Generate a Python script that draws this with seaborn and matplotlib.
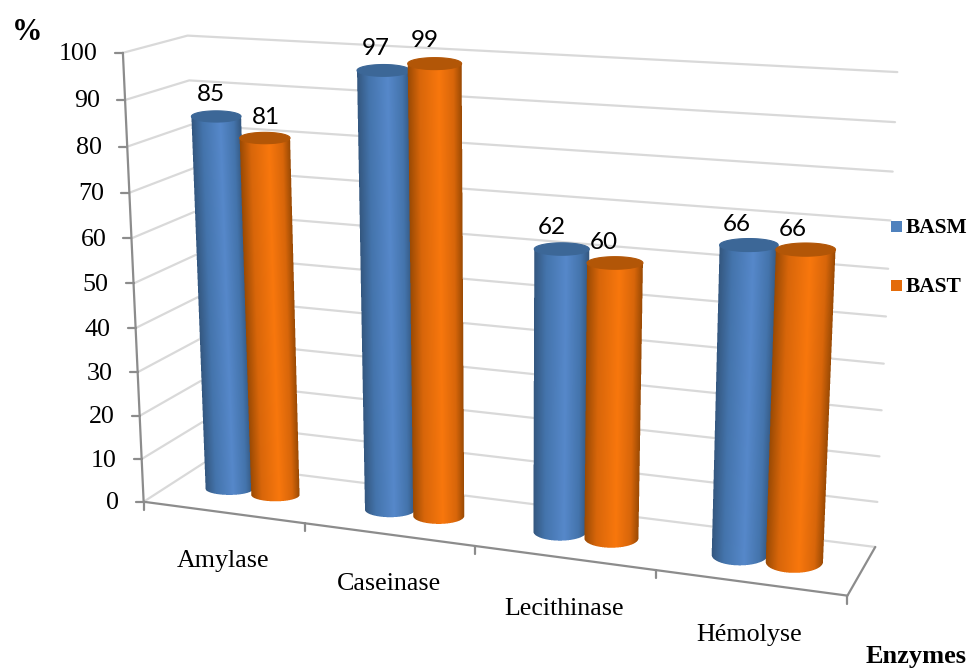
import numpy as np
import pandas as pd
import matplotlib
matplotlib.use("Agg")
import matplotlib.pyplot as plt
from matplotlib.colors import LinearSegmentedColormap
from matplotlib.patches import Polygon, Rectangle
import seaborn as sns

# Activity of each strain per enzyme, in percent
enzymes = ["Amylase", "Caseinase", "Lecithinase", "Hémolyse"]
basm = [85, 97, 62, 66]
bast = [81, 99, 60, 66]
y_ticks = [0, 10, 20, 30, 40, 50, 60, 70, 80, 90, 100]

series_names = ["BASM", "BAST"]
series_values = [basm, bast]

sns.set_theme(style="white")
SERIF = "Liberation Serif"
GRID = "#D9D9D9"
AXIS = "#8C8C8C"

fig = plt.figure(figsize=(9.71, 6.69), dpi=100)
ax = fig.add_axes([0, 0, 1, 1])

# Camera of the 3D box: (category position, value/100, depth) -> screen position
box_frame = [
    (0, 0, 0, 144, 502), (1, 0, 0, 304, 523), (2, 0, 0, 475, 547), (3, 0, 0, 656, 571),
    (4, 0, 0, 847, 595), (4, 0, 1, 875, 546), (0, 0, 1, 204, 463),
    (0, 1, 0, 123, 53), (0, .5, 0, 134, 282), (0, 1, 1, 187, 36),
    (4, 1, 1, 897, 72), (4, .5, 1, 887, 317),
]


def fit_camera(frame):
    rows = []
    for x, y, z, u, v in frame:
        u, v = u / 1000, v / 1000
        rows.append([x, y, z, 1, 0, 0, 0, 0, -u * x, -u * y, -u * z, -u])
        rows.append([0, 0, 0, 0, x, y, z, 1, -v * x, -v * y, -v * z, -v])
    return np.linalg.svd(np.array(rows))[2][-1].reshape(3, 4)


CAMERA = fit_camera(box_frame)


def project(x, value, z):
    x, value, z = np.broadcast_arrays(x, value, z)
    pts = np.stack([x, value / 100, z, np.ones_like(x, dtype=float)])
    h = CAMERA @ pts
    return h[0] / h[2] * 1000, h[1] / h[2] * 1000


# Wall gridlines, drawn as one polyline per value level
levels = []
for tick in y_ticks:
    corners = [project(0, tick, 0), project(0, tick, 1), project(4, tick, 1)]
    for order, (u, v) in enumerate(corners):
        levels.append({"level": tick, "order": order, "u": float(u), "v": float(v)})
grid_df = pd.DataFrame(levels)
sns.lineplot(data=grid_df, x="u", y="v", units="level", estimator=None, sort=False,
             color=GRID, lw=1.6, ax=ax, legend=False, zorder=1)

# Axis lines and ticks
for a, b in [(project(0, 0, 0), project(0, 100, 0)),
             (project(0, 0, 0), project(4, 0, 0)),
             (project(4, 0, 0), project(4, 0, 1))]:
    ax.plot([a[0], b[0]], [a[1], b[1]], color=AXIS, lw=1.6, zorder=2, solid_capstyle="round")
for tick in y_ticks:
    u, v = project(0, tick, 0)
    ax.plot([u - 8, u], [v, v], color=AXIS, lw=1.6, zorder=2)
    ax.text(u - 25, v + 1.5, str(tick), ha="right", va="center", family=SERIF,
            fontsize=18.7, color="black")
for pos in range(5):
    u, v = project(pos, 0, 0)
    ax.plot([u, u], [v, v + 8], color=AXIS, lw=1.6, zorder=2)

palettes = {
    "BASM": dict(edge="#34577F", mid="#4474AC", light="#5688CA", cap="#3C6797"),
    "BAST": dict(edge="#9A4A04", mid="#D8660A", light="#F8770D", cap="#B25607"),
}
legend_fill = sns.color_palette(["#4F81BD", "#E46C0A"])

WIDTH = 0.292
RADIUS_X = 0.152
SAMPLES = 4


def half_width(cx, value):
    left, _ = project(cx - RADIUS_X, value, 0.5)
    right, _ = project(cx + RADIUS_X, value, 0.5)
    return (right - left) / 2


def draw_cylinder(cx, value, name):
    pal = palettes[name]
    cmap = LinearSegmentedColormap.from_list(name, [
        (0, pal["edge"]), (0.22, pal["mid"]), (0.58, pal["light"]),
        (0.85, pal["mid"]), (1, pal["edge"])])
    base_u, base_v = project(cx, 0, 0.5)
    top_u, top_v = project(cx, value, 0.5)
    base_a, top_a = half_width(cx, 0), half_width(cx, value)
    # Ellipses stay level on screen; the lower one opens up towards the right of the floor
    base_b = 5.5 + 1.5 * cx
    top_b = 5.5 + 0.3 * cx

    # Side surface, shaded across its width and smoothed at the silhouette
    x0 = int(min(base_u - base_a, top_u - top_a)) - 2
    x1 = int(max(base_u + base_a, top_u + top_a)) + 3
    y0 = int(top_v) - 1
    y1 = int(base_v + base_b) + 3
    xs = x0 + (np.arange((x1 - x0) * SAMPLES) + 0.5) / SAMPLES
    ys = y0 + (np.arange((y1 - y0) * SAMPLES) + 0.5) / SAMPLES
    gx, gy = np.meshgrid(xs, ys)
    t = np.clip((gy - top_v) / (base_v - top_v), 0, 1)
    center = top_u + (base_u - top_u) * t
    half = top_a + (base_a - top_a) * t
    across = (gx - center) / half
    inside = (np.abs(across) <= 1) & (gy >= top_v)
    floor_edge = base_v + base_b * np.sqrt(np.clip(1 - ((gx - base_u) / base_a) ** 2, 0, 1))
    inside &= (gy <= base_v) | ((gy <= floor_edge) & (np.abs(gx - base_u) <= base_a))
    rgba = cmap(np.clip((across + 1) / 2, 0, 1))
    rgba[..., :3] *= inside[..., None]
    rgba[..., 3] = inside

    def shrink(arr):
        h, w = arr.shape[0] // SAMPLES, arr.shape[1] // SAMPLES
        return arr.reshape(h, SAMPLES, w, SAMPLES, -1).mean(axis=(1, 3))

    small = shrink(rgba)
    alpha = small[..., 3:]
    small[..., :3] = small[..., :3] / np.where(alpha > 0, alpha, 1)
    ax.imshow(np.clip(small, 0, 1), extent=(x0, x1, y1, y0), origin="upper", aspect="auto",
              interpolation="nearest", zorder=3)

    a = np.linspace(0, 2 * np.pi, 120)
    cap = np.column_stack([top_u + top_a * np.cos(a), top_v + top_b * np.sin(a)])
    ax.add_patch(Polygon(cap, closed=True, facecolor=pal["cap"], edgecolor=pal["cap"],
                         lw=0.8, zorder=3))


# Label nudges in screen units, per series and per enzyme
label_dx = [[-5, -8, -10, -12], [1, -10, -11, -13]]
label_dy = [[-22, -22, -22, -21], [-21, -23, -20, -20]]

for i in range(len(enzymes)):
    for s, name in enumerate(series_names):
        cx = i + 0.5 + (s - 0.5) * WIDTH
        value = series_values[s][i]
        draw_cylinder(cx, value, name)
        u, v = project(cx, value, 0.5)
        ax.text(u + label_dx[s][i], v + label_dy[s][i], str(value), ha="center", va="center",
                family="Lato", fontsize=17.5, color="black", zorder=5)

# Category labels below the front edge
cat_dx = [0, 0, 0, -1]
cat_dy = [49, 50, 51, 52]
for i, name in enumerate(enzymes):
    u, v = project(i + 0.5, 0, 0)
    ax.text(u + cat_dx[i], v + cat_dy[i], name, ha="center", va="center", family=SERIF,
            fontsize=18.7, color="black")

# Legend
for j, name in enumerate(series_names):
    top = 221 + j * 58.5
    ax.add_patch(Rectangle((891, top), 11, 11, facecolor=legend_fill[j], edgecolor="none", zorder=4))
    ax.text(906, top + 7, name, ha="left", va="center", family=SERIF, fontsize=15.4,
            fontweight="bold", color="black")

ax.text(27, 33, "%", ha="center", va="center", family=SERIF, fontsize=22,
        fontweight="bold", color="black")
ax.text(967, 657, "Enzymes", ha="right", va="center", family=SERIF, fontsize=19,
        fontweight="bold", color="black")

ax.set_xlim(0, 971)
ax.set_ylim(669, 0)
ax.axis("off")

fig.savefig("out.png", dpi=100, facecolor="white")
